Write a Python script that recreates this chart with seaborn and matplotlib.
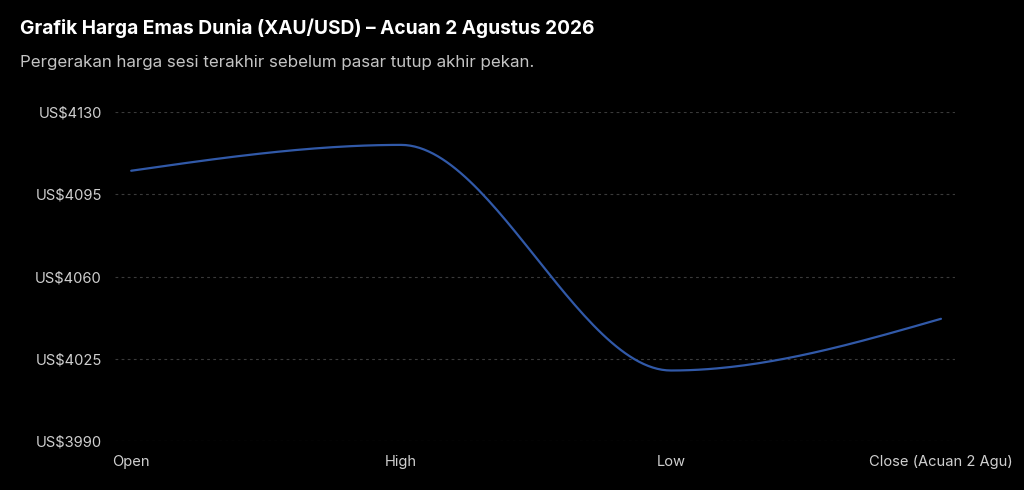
import numpy as np
import pandas as pd
import matplotlib
matplotlib.use("Agg")
import matplotlib.pyplot as plt
import seaborn as sns

# data
categories = ["Open", "High", "Low", "Close (Acuan 2 Agu)"]
prices = [4105, 4116, 4020, 4042]
y_ticks = [3990, 4025, 4060, 4095, 4130]

title = "Grafik Harga Emas Dunia (XAU/USD) – Acuan 2 Agustus 2026"
subtitle = "Pergerakan harga sesi terakhir sebelum pasar tutup akhir pekan."

bg = "#000000"
line_color = "#3159a8"


def monotone_curve(xs, ys, steps=60):
    # smooth monotone cubic (same idea as d3 curveMonotoneX), used only to draw the line
    xs = np.asarray(xs, float)
    ys = np.asarray(ys, float)
    h = np.diff(xs)
    s = np.diff(ys) / h
    n = len(xs)
    t = np.zeros(n)
    for i in range(1, n - 1):
        p = (s[i - 1] * h[i] + s[i] * h[i - 1]) / (h[i - 1] + h[i])
        t[i] = (np.sign(s[i - 1]) + np.sign(s[i])) * min(abs(s[i - 1]), abs(s[i]), 0.5 * abs(p))
    t[0] = (3 * s[0] - t[1]) / 2
    t[-1] = (3 * s[-1] - t[-2]) / 2
    out_x, out_y = [], []
    for i in range(n - 1):
        u = np.linspace(0, 1, steps)
        h00 = 2 * u**3 - 3 * u**2 + 1
        h10 = u**3 - 2 * u**2 + u
        h01 = -2 * u**3 + 3 * u**2
        h11 = u**3 - u**2
        out_x.extend(xs[i] + u * h[i])
        out_y.extend(h00 * ys[i] + h10 * h[i] * t[i] + h01 * ys[i + 1] + h11 * h[i] * t[i + 1])
    return np.array(out_x), np.array(out_y)


sns.set_theme(style="dark")
plt.rcParams["font.family"] = ["Inter", "DejaVu Sans"]

fig = plt.figure(figsize=(10.24, 4.9), dpi=100, facecolor=bg)
ax = fig.add_axes([115 / 1024, 1 - 441 / 490, (955 - 115) / 1024, (441 - 112) / 490])
ax.set_facecolor(bg)

pos = np.arange(len(categories))
cx, cy = monotone_curve(pos, prices)
curve = pd.DataFrame({"x": cx, "price": cy})
sns.lineplot(data=curve, x="x", y="price", ax=ax, color=line_color, linewidth=1.6, sort=False)

ax.set_xlim(-0.06, len(categories) - 1 + 0.052)
ax.set_ylim(y_ticks[0], y_ticks[-1])
ax.set_yticks(y_ticks)
ax.set_yticklabels([f"US${v}" for v in y_ticks])
ax.set_xticks(pos)
ax.set_xticklabels(categories)
ax.set_xlabel("")
ax.set_ylabel("")

ax.grid(False)
for v in y_ticks:
    ax.axhline(v, color="#3a3a3a", linewidth=0.8, linestyle=(0, (2.5, 3)), zorder=0)
for sp in ax.spines.values():
    sp.set_visible(False)
ax.tick_params(axis="both", length=0, colors="#cfcfcf", labelsize=10.6)
ax.tick_params(axis="y", pad=9.5)
ax.tick_params(axis="x", pad=10)

fig.text(20 / 1024, 1 - 28 / 490, title, color="white", fontsize=13.8, fontweight="bold",
         va="center", ha="left")
fig.text(20 / 1024, 1 - 63 / 490, subtitle, color="#c4c4c4", fontsize=12.2,
         va="center", ha="left")

fig.savefig("out.png", dpi=100, facecolor=bg)
